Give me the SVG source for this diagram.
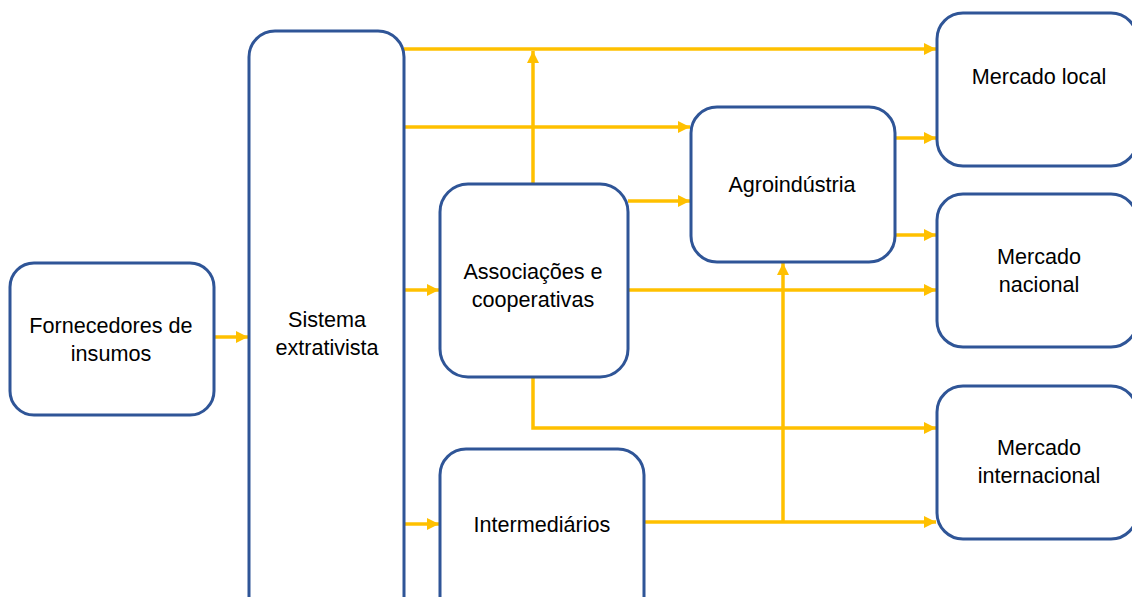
<svg xmlns="http://www.w3.org/2000/svg" width="1132" height="597" viewBox="0 0 1132 597">
<style>
.box{fill:#fff;stroke:#2F5597;stroke-width:3}
.lbl{font-family:"Liberation Sans",Arial,sans-serif;font-size:21.6px;fill:#000;text-anchor:middle}
.c{fill:none;stroke:#FFC000;stroke-width:3.5}
</style>
<defs>
<marker id="ah" markerUnits="userSpaceOnUse" markerWidth="13" markerHeight="14" refX="12" refY="7" orient="auto">
<path d="M0,1 L12,7 L0,13 Z" fill="#FFC000"/>
</marker>
</defs>
<rect width="1132" height="597" fill="#fff"/>
<g id="connectors">
<path class="c" d="M214,337 H248" marker-end="url(#ah)"/>
<path class="c" d="M404,49 H936" marker-end="url(#ah)"/>
<path class="c" d="M404,127 H690" marker-end="url(#ah)"/>
<path class="c" d="M404,290 H439" marker-end="url(#ah)"/>
<path class="c" d="M404,524 H439" marker-end="url(#ah)"/>
<path class="c" d="M533,184 V51" marker-end="url(#ah)"/>
<path class="c" d="M628,201 H690" marker-end="url(#ah)"/>
<path class="c" d="M628,290 H936" marker-end="url(#ah)"/>
<path class="c" d="M533,377 V428 H936" marker-end="url(#ah)"/>
<path class="c" d="M644,522 H936" marker-end="url(#ah)"/>
<path class="c" d="M783,522 V263" marker-end="url(#ah)"/>
<path class="c" d="M895,138 H936" marker-end="url(#ah)"/>
<path class="c" d="M895,235 H936" marker-end="url(#ah)"/>
</g>
<g id="fornecedores">
<rect class="box" x="10" y="263" width="204" height="152" rx="24"/>
<text class="lbl" x="111" y="333">Fornecedores de</text>
<text class="lbl" x="111" y="361">insumos</text>
</g>
<g id="sistema">
<rect class="box" x="249" y="31" width="155" height="600" rx="26"/>
<text class="lbl" x="327" y="327">Sistema</text>
<text class="lbl" x="327" y="355">extrativista</text>
</g>
<g id="associacoes">
<rect class="box" x="440" y="184" width="188" height="193" rx="28"/>
<text class="lbl" x="533" y="279">Associações e</text>
<text class="lbl" x="533" y="307">cooperativas</text>
</g>
<g id="intermediarios">
<rect class="box" x="440" y="449" width="204" height="180" rx="26"/>
<text class="lbl" x="542" y="532">Intermediários</text>
</g>
<g id="agroindustria">
<rect class="box" x="691" y="107" width="204" height="155" rx="26"/>
<text class="lbl" x="792" y="192">Agroindústria</text>
</g>
<g id="mercado-local">
<rect class="box" x="937" y="13" width="200" height="153" rx="26"/>
<text class="lbl" x="1039" y="84">Mercado local</text>
</g>
<g id="mercado-nacional">
<rect class="box" x="937" y="194" width="200" height="153" rx="26"/>
<text class="lbl" x="1039" y="264">Mercado</text>
<text class="lbl" x="1039" y="292">nacional</text>
</g>
<g id="mercado-internacional">
<rect class="box" x="937" y="386" width="200" height="153" rx="26"/>
<text class="lbl" x="1039" y="455">Mercado</text>
<text class="lbl" x="1039" y="483">internacional</text>
</g>
</svg>
